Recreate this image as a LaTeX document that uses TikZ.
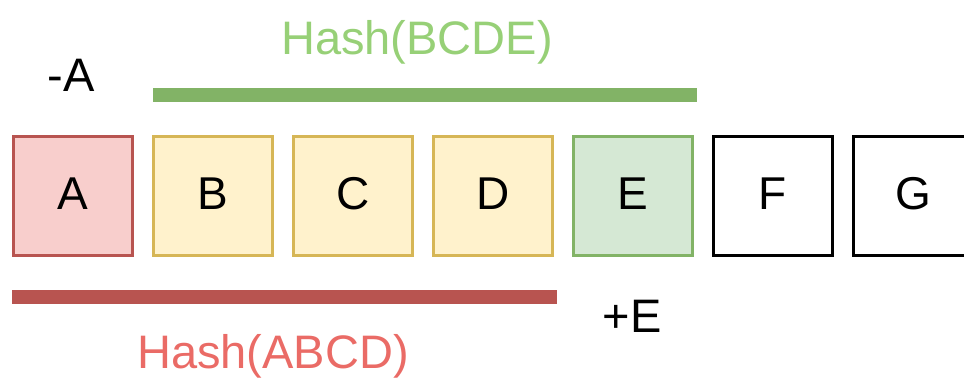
\documentclass[tikz,border=0pt]{standalone}
\usepackage{fontspec}
\setmainfont{Liberation Sans}
\definecolor{redfill}{HTML}{F8CECC}
\definecolor{reddraw}{HTML}{B85450}
\definecolor{redtext}{HTML}{EA6B66}
\definecolor{yelfill}{HTML}{FFF2CC}
\definecolor{yeldraw}{HTML}{D6B656}
\definecolor{grnfill}{HTML}{D5E8D4}
\definecolor{grndraw}{HTML}{82B366}
\definecolor{grntext}{HTML}{97D077}
\begin{document}
\begin{tikzpicture}[x=1pt,y=-1pt,
  cell/.style={draw=black,fill=white,line width=3pt,minimum width=119pt,minimum height=119pt,inner sep=0pt,text depth=5pt,font=\fontsize{46}{50}\selectfont},
  redcell/.style={cell,draw=reddraw,fill=redfill},
  yelcell/.style={cell,draw=yeldraw,fill=yelfill},
  grncell/.style={cell,draw=grndraw,fill=grnfill},
  lbl/.style={anchor=base,inner sep=0pt,font=\fontsize{47}{50}\selectfont},
  bar/.style={line width=14pt}]
\useasboundingbox (0,0) rectangle (964,379);
\clip (0,0) rectangle (964,379);
\node[redcell] (a) at (73,196) {A};
\node[yelcell] (b) at (213,196) {B};
\node[yelcell] (c) at (353,196) {C};
\node[yelcell] (d) at (493,196) {D};
\node[grncell] (e) at (633,196) {E};
\node[cell] (f) at (773,196) {F};
\node[cell] (g) at (913,196) {G};
\coordinate (g1s) at (153,95.5);
\coordinate (g1e) at (697,95.5);
\draw[bar,grndraw] (g1s) -- (g1e);
\coordinate (r1s) at (12,297);
\coordinate (r1e) at (557,297);
\draw[bar,reddraw] (r1s) -- (r1e);
\node[lbl,text=grntext] (hb) at (417,55) {Hash(BCDE)};
\node[lbl,text=redtext] (ha) at (273,368) {Hash(ABCD)};
\node[lbl] (ma) at (71,92) {-A};
\node[lbl] (pe) at (632,333) {+E};
\end{tikzpicture}
\end{document}
